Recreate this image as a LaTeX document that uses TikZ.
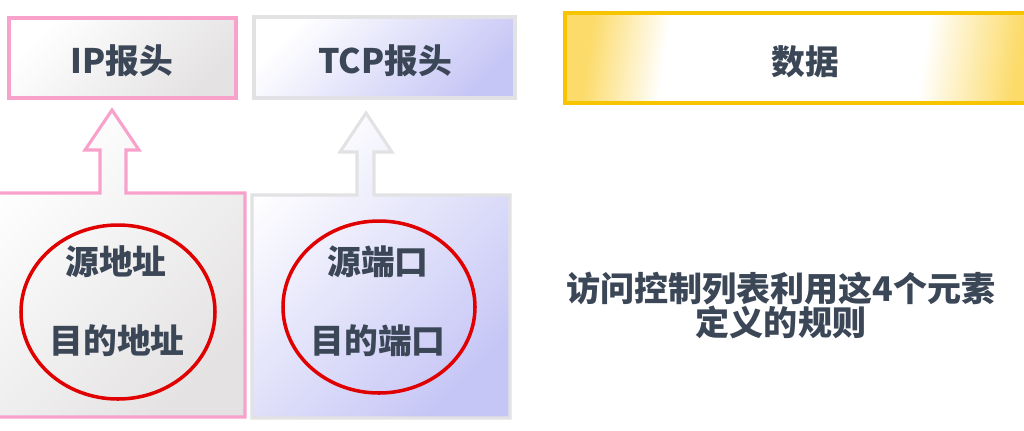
\documentclass[tikz,border=0pt]{standalone}
\usepackage{fontspec}
\setmainfont{Noto Sans CJK SC}
\usepackage{xcolor}
\usetikzlibrary{positioning}
\definecolor{ink}{HTML}{3B4656}
\definecolor{pinkline}{HTML}{F7A1CB}
\definecolor{greyline}{HTML}{E2E2E4}
\definecolor{goldline}{HTML}{F6C500}
\definecolor{ringred}{HTML}{E00000}
\definecolor{greyfill}{HTML}{E4E2E2}
\definecolor{lavfill}{HTML}{C6C6F6}
\definecolor{goldfill}{HTML}{FCDB6A}
\pgfdeclarehorizontalshading{goldglow}{100bp}{color(0bp)=(goldfill); color(25bp)=(goldfill); color(34bp)=(white); color(64bp)=(white); color(75bp)=(goldfill); color(100bp)=(goldfill)}
\tikzset{
  lab/.style={text=ink, font=\fontsize{24}{28}\selectfont\bfseries},
  ipbox/.style={draw=pinkline, line width=2.2pt, top color=white, bottom color=greyfill, shading angle=45},
  tcpbox/.style={draw=greyline, line width=2.2pt, top color=white, bottom color=lavfill, shading angle=45},
  databox/.style={draw=goldline, line width=2.8pt, shading=goldglow, shading angle=-8},
  ring/.style={draw=ringred, line width=2.5pt},
}
\begin{document}
\begin{tikzpicture}[x=0.025cm, y=-0.025cm]
  \useasboundingbox (0,0) rectangle (1024,430);
  \clip (0,0) rectangle (1024,430);
  % header boxes
  \path[ipbox] (9,18) rectangle (236,98);
  \path[tcpbox] (254,17) rectangle (515,98);
  \path[databox] (565,13) rectangle (1040,103);
  \node[lab] (ip) at (122,61) {IP报头};
  \node[lab] (tcp) at (385,61) {TCP报头};
  \node[lab] (data) at (805,62) {数据};
  % lower boxes with their up arrows
  \path[ipbox]
    (-5,193) -- (100,193) -- (100,150) -- (85,150) -- (112,110) -- (139,150)
    -- (126,150) -- (126,193) -- (245,193) -- (245,417) -- (-5,417) -- cycle;
  \path[tcpbox]
    (252,195) -- (357,195) -- (357,152) -- (340,152) -- (366,113) -- (392,152)
    -- (374,152) -- (374,195) -- (510,195) -- (510,418) -- (252,418) -- cycle;
  % address and port rings
  \draw[ring] (118,312) ellipse (97 and 87);
  \draw[ring] (379,307) ellipse (96 and 86);
  \node[lab] (src) at (116,262) {源地址};
  \node[lab] (dst) at (117,341) {目的地址};
  \node[lab] (sport) at (378,262) {源端口};
  \node[lab] (dport) at (378,341) {目的端口};
  % note on the right
  \node[lab, align=center, font=\fontsize{24.2}{24.2}\selectfont\bfseries] (note) at (781,305)
    {访问控制列表利用这4个元素\\定义的规则};
\end{tikzpicture}
\end{document}
